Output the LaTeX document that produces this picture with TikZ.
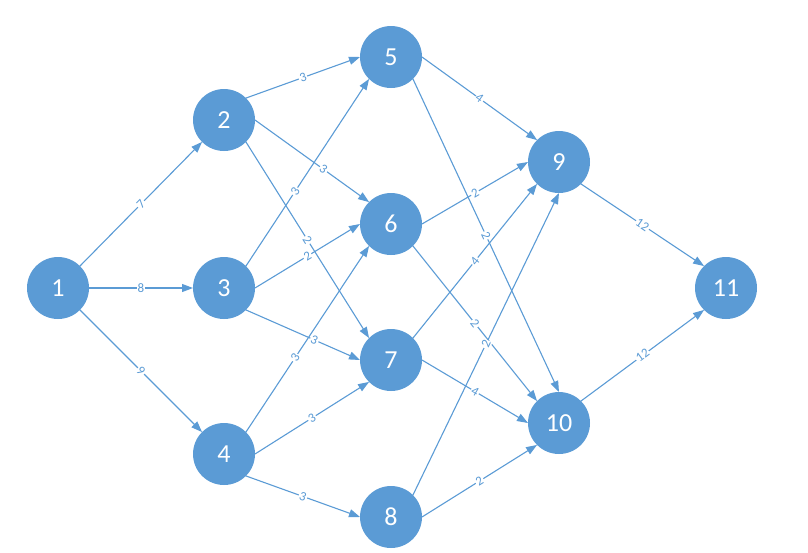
\documentclass[tikz,border=0pt]{standalone}
\usepackage{fontspec}
\setmainfont{Carlito}
\usetikzlibrary{arrows.meta}
\definecolor{nodeblue}{HTML}{5B9BD5}

\begin{document}
\begin{tikzpicture}[x=1pt, y=-1pt,
    vertex/.style={circle, fill=nodeblue, text=white, minimum size=62pt, inner sep=0pt, outer sep=0pt, font=\fontsize{26}{26}\selectfont},
    edge/.style={draw=nodeblue, line width=1.1pt, -{Triangle[length=11pt,width=8pt]}},
    weight/.style={sloped, fill=white, inner sep=1pt, text=nodeblue, font=\fontsize{13}{13}\selectfont}]
    \useasboundingbox (0,0) rectangle (808,552);

    % vertexs
    \node[vertex] (n1) at (58,288) {1};
    \node[vertex] (n2) at (224,120) {2};
    \node[vertex] (n3) at (224,288) {3};
    \node[vertex] (n4) at (224,454) {4};
    \node[vertex] (n5) at (391,57) {5};
    \node[vertex] (n6) at (391,224) {6};
    \node[vertex] (n7) at (391,360) {7};
    \node[vertex] (n8) at (391,517) {8};
    \node[vertex] (n9) at (559,162) {9};
    \node[vertex] (n10) at (559,423) {10};
    \node[vertex] (n11) at (726,288) {11};

    % arcs amb pesos
    \draw[edge] (n1.north east) -- node[weight] {7} (n2.south west);
    \draw[edge] (n1.east) -- node[weight] {8} (n3.west);
    \draw[edge] (n1.south east) -- node[weight] {9} (n4.north west);

    \draw[edge] (n2.north east) -- node[weight] {3} (n5.west);
    \draw[edge] (n2.east) -- node[weight, pos=0.6] {3} (n6.north west);
    \draw[edge] (n2.south east) -- node[weight] {2} (n7.north west);
    \draw[edge] (n3.north east) -- node[weight, pos=0.4] {3} (n5.south west);
    \draw[edge] (n3.east) -- node[weight] {2} (n6.west);
    \draw[edge] (n3.south east) -- node[weight, pos=0.6] {3} (n7.west);
    \draw[edge] (n4.north east) -- node[weight, pos=0.4] {3} (n6.south west);
    \draw[edge] (n4.east) -- node[weight] {3} (n7.south west);
    \draw[edge] (n4.south east) -- node[weight] {3} (n8.west);

    \draw[edge] (n5.east) -- node[weight] {4} (n9.north west);
    \draw[edge] (n5.south east) -- node[weight] {2} (n10.north);
    \draw[edge] (n6.east) -- node[weight] {2} (n9.west);
    \draw[edge] (n6.south east) -- node[weight] {2} (n10.north west);
    \draw[edge] (n7.north east) -- node[weight] {4} (n9.south west);
    \draw[edge] (n7.east) -- node[weight] {4} (n10.west);
    \draw[edge] (n8.north east) -- node[weight] {2} (n9.south);
    \draw[edge] (n8.east) -- node[weight] {2} (n10.south west);

    \draw[edge] (n9.south east) -- node[weight] {12} (n11.north west);
    \draw[edge] (n10.north east) -- node[weight] {12} (n11.south west);
\end{tikzpicture}
\end{document}
